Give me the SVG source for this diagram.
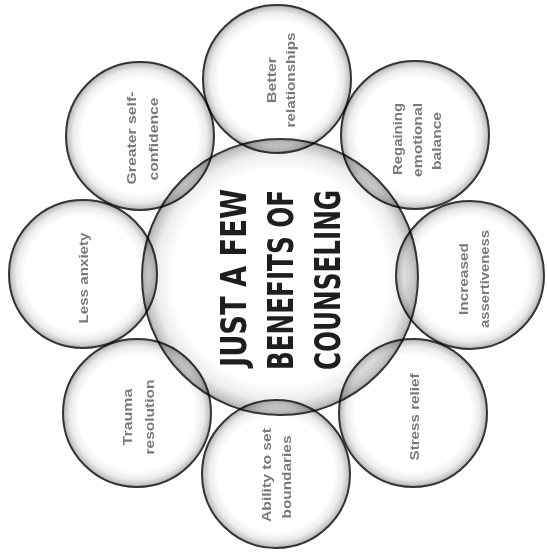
<svg xmlns="http://www.w3.org/2000/svg" width="547" height="554" viewBox="0 0 547 554">
<defs>
<radialGradient id="bub" cx="0.5" cy="0.5" r="0.5">
<stop offset="0" stop-color="#ffffff"/>
<stop offset="0.78" stop-color="#ffffff"/>
<stop offset="0.9" stop-color="#ececec"/>
<stop offset="0.97" stop-color="#c6c6c6"/>
<stop offset="1" stop-color="#a8a8a8"/>
</radialGradient>
<style>
.c{fill:url(#bub);stroke:#353535;stroke-width:2;mix-blend-mode:multiply}
.t{font-family:"Liberation Sans Narrow","DejaVu Sans Condensed","Liberation Sans",sans-serif;font-weight:bold;font-size:35px;fill:#1e1e1e;text-anchor:middle}
.s{font-family:"Liberation Sans","DejaVu Sans",sans-serif;font-weight:bold;font-size:12px;fill:#7a7a7a;text-anchor:middle}
</style>
</defs>
<rect width="547" height="554" fill="#ffffff"/>
<g id="center">
<circle class="c" cx="280" cy="277" r="138"/>
<text class="t" transform="translate(246,278) rotate(-90)" textLength="178" lengthAdjust="spacingAndGlyphs">JUST A FEW</text>
<text class="t" transform="translate(293,280) rotate(-90)" textLength="180" lengthAdjust="spacingAndGlyphs">BENEFITS OF</text>
<text class="t" transform="translate(340,280) rotate(-90)" textLength="180" lengthAdjust="spacingAndGlyphs">COUNSELING</text>
</g>
<g id="n-top">
<circle class="c" cx="277" cy="79" r="74"/>
<text class="s" transform="translate(276,80) rotate(-90)" textLength="46" lengthAdjust="spacingAndGlyphs">Better</text>
<text class="s" transform="translate(295,80) rotate(-90)" textLength="95" lengthAdjust="spacingAndGlyphs">relationships</text>
</g>
<g id="n-topright">
<circle class="c" cx="415" cy="135" r="74"/>
<text class="s" transform="translate(402,139) rotate(-90)" textLength="72" lengthAdjust="spacingAndGlyphs">Regaining</text>
<text class="s" transform="translate(422,140) rotate(-90)" textLength="74" lengthAdjust="spacingAndGlyphs">emotional</text>
<text class="s" transform="translate(441,141) rotate(-90)" textLength="58" lengthAdjust="spacingAndGlyphs">balance</text>
</g>
<g id="n-right">
<circle class="c" cx="470" cy="275" r="74"/>
<text class="s" transform="translate(468,279) rotate(-90)" textLength="72" lengthAdjust="spacingAndGlyphs">Increased</text>
<text class="s" transform="translate(489,279) rotate(-90)" textLength="98" lengthAdjust="spacingAndGlyphs">assertiveness</text>
</g>
<g id="n-bottomright">
<circle class="c" cx="413" cy="413" r="74"/>
<text class="s" transform="translate(419,417) rotate(-90)" textLength="87" lengthAdjust="spacingAndGlyphs">Stress relief</text>
</g>
<g id="n-bottom">
<circle class="c" cx="276" cy="474" r="74"/>
<text class="s" transform="translate(271,475) rotate(-90)" textLength="94" lengthAdjust="spacingAndGlyphs">Ability to set</text>
<text class="s" transform="translate(291,477) rotate(-90)" textLength="83" lengthAdjust="spacingAndGlyphs">boundaries</text>
</g>
<g id="n-bottomleft">
<circle class="c" cx="137" cy="413" r="74"/>
<text class="s" transform="translate(132,417) rotate(-90)" textLength="57" lengthAdjust="spacingAndGlyphs">Trauma</text>
<text class="s" transform="translate(154,417) rotate(-90)" textLength="75" lengthAdjust="spacingAndGlyphs">resolution</text>
</g>
<g id="n-left">
<circle class="c" cx="83" cy="274" r="74"/>
<text class="s" transform="translate(88,278) rotate(-90)" textLength="91" lengthAdjust="spacingAndGlyphs">Less anxiety</text>
</g>
<g id="n-topleft">
<circle class="c" cx="140" cy="136" r="74"/>
<text class="s" transform="translate(136,138) rotate(-90)" textLength="93" lengthAdjust="spacingAndGlyphs">Greater self-</text>
<text class="s" transform="translate(158,139) rotate(-90)" textLength="83" lengthAdjust="spacingAndGlyphs">confidence</text>
</g>
<g id="connectors"/>
</svg>
